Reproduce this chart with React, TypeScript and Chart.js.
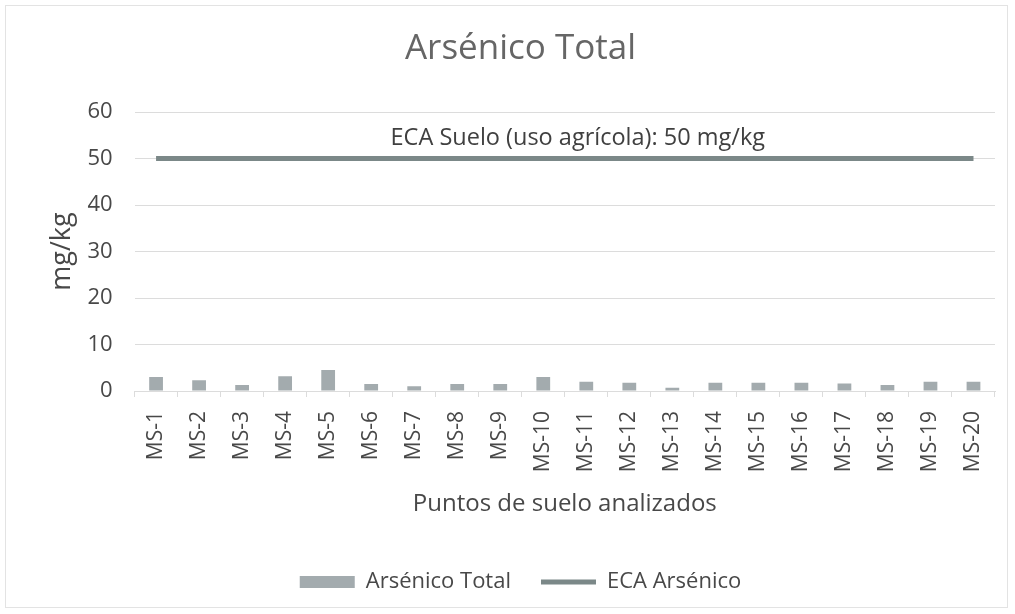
import React, { useEffect, useRef } from "react";
import { Chart, registerables } from "chart.js";

Chart.register(...registerables);

const categories = [
  "MS-1", "MS-2", "MS-3", "MS-4", "MS-5", "MS-6", "MS-7", "MS-8", "MS-9", "MS-10",
  "MS-11", "MS-12", "MS-13", "MS-14", "MS-15", "MS-16", "MS-17", "MS-18", "MS-19", "MS-20",
];
const arsenicoTotal = [3.0, 2.3, 1.3, 3.2, 4.5, 1.5, 1.0, 1.5, 1.5, 3.0, 2.0, 1.8, 0.7, 1.8, 1.8, 1.8, 1.6, 1.3, 2.0, 2.0];
const ecaArsenico = [50, 50, 50, 50, 50, 50, 50, 50, 50, 50, 50, 50, 50, 50, 50, 50, 50, 50, 50, 50];
const ecaLabel = "ECA Suelo (uso agrícola): 50 mg/kg";
const ecaValue = 50;

const FONT = "'Open Sans', 'Noto Sans', sans-serif";
const TITLE = "#666666";
const TEXT = "#484848";
const BAR = "#a3abae";
const LINE = "#7b8888";
const GRID = "#dcdcdc";

const ecaLabelPlugin = {
  id: "ecaLabel",
  afterDatasetsDraw(chart: any) {
    const { ctx, chartArea, scales } = chart;
    const y = scales.y.getPixelForValue(ecaValue);
    const x = (chartArea.left + chartArea.right) / 2 + 13;
    ctx.save();
    ctx.font = `23.5px ${FONT}`;
    ctx.fillStyle = "#404040";
    ctx.textAlign = "center";
    ctx.textBaseline = "middle";
    ctx.fillText(ecaLabel, x, y - 20);
    ctx.restore();
  },
};

export default function App() {
  const ref = useRef<HTMLCanvasElement | null>(null);

  useEffect(() => {
    if (!ref.current) return;
    const chart = new Chart(ref.current, {
      type: "bar",
      data: {
        labels: categories,
        datasets: [
          {
            type: "bar",
            label: "Arsénico Total",
            data: arsenicoTotal,
            backgroundColor: BAR,
            borderWidth: 0,
            categoryPercentage: 0.8,
            barPercentage: 0.4,
          },
          {
            type: "line",
            label: "ECA Arsénico",
            data: ecaArsenico,
            borderColor: LINE,
            backgroundColor: LINE,
            borderWidth: 5,
            pointRadius: 0,
            pointHoverRadius: 0,
          },
        ],
      },
      options: {
        responsive: false,
        animation: false,
        layout: { padding: { top: 20, right: 20, bottom: 11, left: 46 } },
        plugins: {
          title: {
            display: true,
            text: "Arsénico Total",
            color: TITLE,
            font: { family: FONT, size: 35, weight: "normal" },
            padding: { top: 8, bottom: 42 },
          },
          legend: {
            position: "bottom",
            labels: {
              color: TEXT,
              font: { family: FONT, size: 22 },
              usePointStyle: true,
              pointStyleWidth: 55,
              boxHeight: 12,
              padding: 30,
              generateLabels: (c: any) =>
                Chart.defaults.plugins.legend.labels.generateLabels(c).map((l: any, i: number) => ({
                  ...l,
                  pointStyle: i === 0 ? "rect" : "line",
                  lineWidth: i === 0 ? 0 : 5,
                  fillStyle: i === 0 ? BAR : LINE,
                  strokeStyle: i === 0 ? BAR : LINE,
                })),
            },
          },
          tooltip: { enabled: false },
        },
        scales: {
          x: {
            offset: true,
            grid: {
              offset: true,
              drawOnChartArea: false,
              drawTicks: true,
              tickLength: 6,
              color: GRID,
            },
            border: { display: true, color: GRID },
            ticks: {
              color: TEXT,
              font: { family: FONT, size: 21 },
              minRotation: 90,
              maxRotation: 90,
              padding: 14,
              autoSkip: false,
            },
            title: {
              display: true,
              text: "Puntos de suelo analizados",
              color: TEXT,
              font: { family: FONT, size: 24 },
              padding: { top: 4, bottom: 22 },
            },
          },
          y: {
            min: 0,
            max: 60,
            ticks: {
              stepSize: 10,
              color: TEXT,
              font: { family: FONT, size: 22 },
              padding: 22,
            },
            grid: { color: GRID, drawTicks: false },
            border: { display: false },
            title: {
              display: true,
              text: "mg/kg",
              color: TEXT,
              font: { family: FONT, size: 27 },
              padding: { top: 0, bottom: -13 },
            },
          },
        },
      },
      plugins: [ecaLabelPlugin],
    });
    return () => chart.destroy();
  }, []);

  return (
    <div
      style={{
        position: "absolute",
        left: 0,
        top: 0,
        width: 1015,
        height: 614,
        background: "#ffffff",
        overflow: "hidden",
      }}
    >
      <div
        style={{
          position: "absolute",
          left: 5,
          top: 5,
          width: 1003,
          height: 603,
          border: "1px solid #e3e3e3",
          boxSizing: "border-box",
        }}
      />
      <canvas ref={ref} width={1015} height={614} style={{ position: "absolute", left: 0, top: 0 }} />
    </div>
  );
}
